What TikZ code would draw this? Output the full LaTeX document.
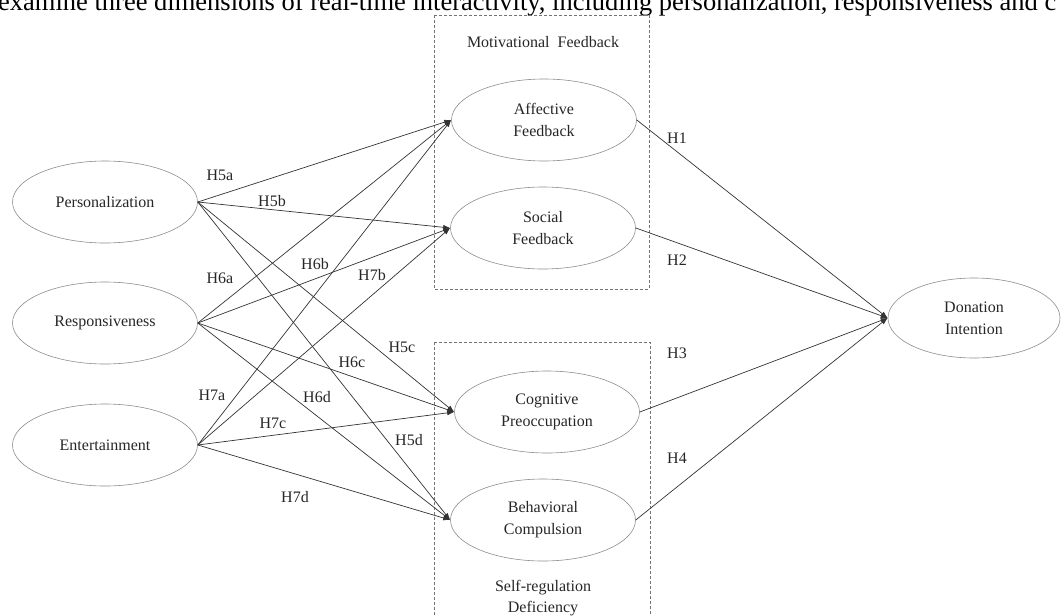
\documentclass[tikz,border=0pt]{standalone}
\usepackage{fontspec}
\setmainfont{Liberation Serif}
\usetikzlibrary{shapes.geometric,arrows.meta}
\begin{document}
\begin{tikzpicture}[x=1pt,y=-1pt,
  ell/.style={ellipse,draw=black!45,line width=0.6pt,minimum width=185pt,minimum height=82pt,inner sep=0pt,align=center,font=\fontsize{16}{22}\selectfont,text=black!85},
  hyp/.style={font=\fontsize{16}{18}\selectfont,text=black!85,inner sep=0pt},
  conn/.style={draw=black!80,line width=0.7pt,-{Latex[length=7pt,width=5pt]}},
  grp/.style={draw=black!55,dash pattern=on 3pt off 2pt,line width=0.8pt},
  grplabel/.style={font=\fontsize{16}{21}\selectfont,text=black!85,align=center,inner sep=0pt}]
\useasboundingbox (0,0) rectangle (1061,616);
\clip (0,0) rectangle (1061,616);
% cropped caption line at top
\node[anchor=base west,inner sep=0pt,font=\fontsize{26.5}{28}\selectfont] (cap) at (-2,10) {examine three dimensions of real-time interactivity, including personalization, responsiveness and c};
% group boxes
\draw[grp] (434,15) rectangle (649,289);
\draw[grp] (434,342) rectangle (650,640);
\node[grplabel] (gmot) at (543,42) {Motivational\ \ Feedback};
\node[grplabel] (gself) at (543,598) {Self-regulation\\Deficiency};
% nodes
\node[ell] (P) at (105,202) {Personalization};
\node[ell] (R) at (105,323) {Responsiveness};
\node[ell] (E) at (105,445) {Entertainment};
\node[ell] (A) at (544,120) {Affective\\Feedback};
\node[ell] (S) at (543,228) {Social\\Feedback};
\node[ell] (C) at (547,412) {Cognitive\\Preoccupation};
\node[ell] (B) at (543,520) {Behavioral\\Compulsion};
\node[ell,minimum width=172pt,minimum height=80pt] (D) at (974,318) {Donation\\Intention};
% connectors
\foreach \s in {P,R,E}{
  \foreach \t in {A,S,C,B}{
    \draw[conn] (\s.east) -- (\t.west);
  }
}
\foreach \t in {A,S,C,B}{
  \draw[conn] (\t.east) -- (D.west);
}
% hypothesis labels
\node[hyp] (h5a) at (220,175) {H5a};
\node[hyp] (h5b) at (272,201) {H5b};
\node[hyp] (h6a) at (220,278) {H6a};
\node[hyp] (h6b) at (315,264) {H6b};
\node[hyp] (h7b) at (372,275) {H7b};
\node[hyp] (h5c) at (402,347) {H5c};
\node[hyp] (h6c) at (352,362) {H6c};
\node[hyp] (h7a) at (212,395) {H7a};
\node[hyp] (h6d) at (317,397) {H6d};
\node[hyp] (h7c) at (273,423) {H7c};
\node[hyp] (h5d) at (409,440) {H5d};
\node[hyp] (h7d) at (295,497) {H7d};
\node[hyp] (h1) at (677,138) {H1};
\node[hyp] (h2) at (677,260) {H2};
\node[hyp] (h3) at (677,353) {H3};
\node[hyp] (h4) at (677,458) {H4};
\end{tikzpicture}
\end{document}
